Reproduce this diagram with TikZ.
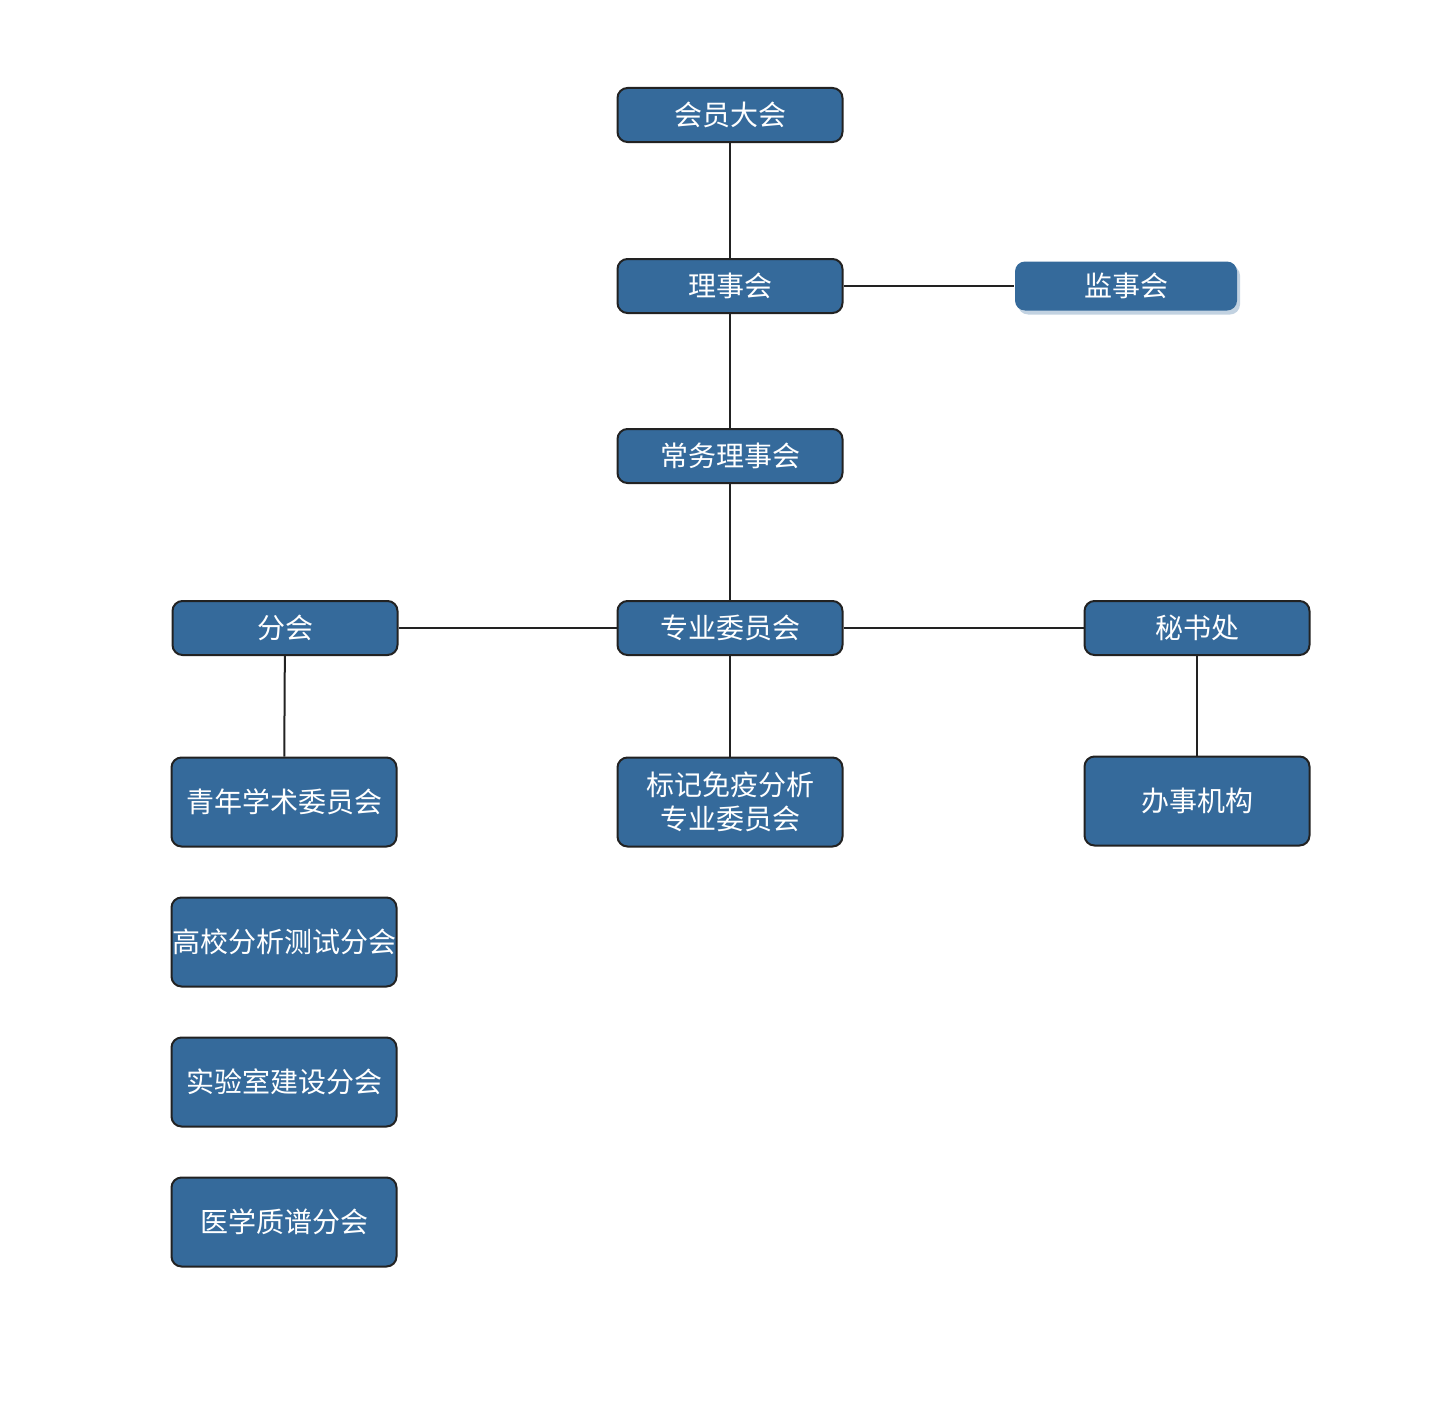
\documentclass[tikz,border=0pt]{standalone}
\usepackage{fontspec}
\newfontfamily\cjk{Noto Sans CJK SC}
\usetikzlibrary{shadows}
\definecolor{boxblue}{HTML}{356A9B}
\definecolor{edgegray}{HTML}{222222}
\tikzset{
  orgbox/.style={draw=edgegray, line width=1pt, fill=boxblue, rounded corners=5pt,
    text=white, font=\cjk\fontsize{14}{17}\selectfont, align=center,
    minimum width=112.5pt, minimum height=27pt, inner sep=0pt},
  tallbox/.style={orgbox, minimum height=44.5pt},
  link/.style={draw=edgegray, line width=1pt}
}
\begin{document}
\begin{tikzpicture}[x=0.5pt,y=-0.5pt]
  \useasboundingbox (0,0) rectangle (1455,1402);
  \node[orgbox] (hy) at (730,115) {会员大会};
  \node[orgbox] (lsh) at (730,286) {理事会};
  \node[orgbox, draw=none, minimum width=111pt, minimum height=24.5pt,
    drop shadow={shadow xshift=1.5pt, shadow yshift=-2pt, fill=boxblue!60, opacity=0.5}] (jsh) at (1126,286) {监事会};
  \node[orgbox] (cw) at (730,456) {常务理事会};
  \node[orgbox] (zy) at (730,628) {专业委员会};
  \node[orgbox] (fh) at (285,628) {分会};
  \node[orgbox] (msc) at (1197,628) {秘书处};
  \node[tallbox] (qn) at (284,802) {青年学术委员会};
  \node[tallbox] (bj) at (730,802) {标记免疫分析\\专业委员会};
  \node[tallbox] (bs) at (1197,801) {办事机构};
  \node[tallbox] (gx) at (284,942) {高校分析测试分会};
  \node[tallbox] (sy) at (284,1082) {实验室建设分会};
  \node[tallbox] (yx) at (284,1222) {医学质谱分会};
  % connectors
  \draw[link] (hy) -- (lsh);
  \draw[link] (lsh) -- (jsh);
  \draw[link] (lsh) -- (cw);
  \draw[link] (cw) -- (zy);
  \draw[link] (zy) -- (fh);
  \draw[link] (zy) -- (msc);
  \draw[link] (zy) -- (bj);
  \draw[link] (fh) -- (qn);
  \draw[link] (msc) -- (bs);
\end{tikzpicture}
\end{document}
